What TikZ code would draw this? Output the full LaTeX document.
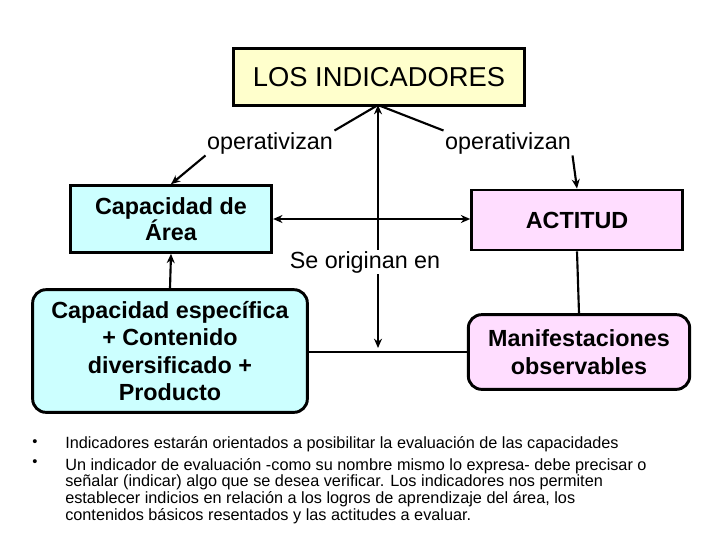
\documentclass[tikz,border=0pt]{standalone}
\usepackage{fontspec}
\setmainfont{Liberation Sans}
\usetikzlibrary{arrows.meta}
\begin{document}
\begin{tikzpicture}[x=0.75pt,y=-0.75pt,
 box/.style={draw,line width=2.2pt,align=center,inner sep=0pt},
 lab/.style={font=\fontsize{17.5}{20}\selectfont,fill=white,inner sep=1pt},
 con/.style={line width=1.6pt},
 arr/.style={con,-{Stealth[length=7pt,width=6pt]}}]
\useasboundingbox (0,0) rectangle (720,540);
\node[box,fill={rgb,255:red,255;green,255;blue,204},minimum width=218pt,minimum height=43pt,font=\fontsize{20.5}{24}\selectfont] (li) at (379,77) {LOS INDICADORES};
\node[box,fill={rgb,255:red,204;green,255;blue,255},minimum width=151pt,minimum height=50pt,font=\bfseries\fontsize{17.5}{19.5}\selectfont] (ca) at (171,219) {Capacidad de\\Área};
\node[box,fill={rgb,255:red,255;green,221;blue,255},minimum width=158pt,minimum height=45pt,font=\bfseries\fontsize{17.5}{20}\selectfont] (act) at (577,220) {ACTITUD};
\node[box,rounded corners=10pt,fill={rgb,255:red,204;green,255;blue,255},minimum width=206pt,minimum height=92pt,font=\bfseries\fontsize{17.5}{20.5}\selectfont] (ce) at (170,351) {Capacidad específica\\+ Contenido\\diversificado +\\Producto};
\node[box,rounded corners=10pt,fill={rgb,255:red,255;green,221;blue,255},minimum width=166pt,minimum height=56pt,font=\bfseries\fontsize{17.5}{20.5}\selectfont] (ma) at (579,352) {Manifestaciones\\observables};
\node[lab] (op1) at (270,143) {operativizan};
\node[lab] (op2) at (508,143) {operativizan};
\node[lab] (se) at (365,262) {Se originan en};
\coordinate (mid) at (378,352);
\coordinate (lb) at (378,105);
\draw[con] (lb) -- (op1.north east);
\draw[arr] (op1.south west) -- (ca.north);
\draw[con] (lb) -- (op2.north west);
\draw[arr] (op2.south east) -- (act.north);
\draw[arr] (se.north -| lb) -- (lb);
\draw[arr] (se.south -| lb) -- ([yshift=3pt]mid);
\draw[con] (ce.east |- mid) -- (ma.west |- mid);
\draw[con,{Stealth[length=7pt,width=6pt]}-{Stealth[length=7pt,width=6pt]}] (ca.east |- 0,219) -- (act.west |- 0,219);
\draw[arr] (ce.north) -- (ca.south);
\draw[con] (act.south) -- (ma.north);
\node[anchor=north west,text width=440pt,font=\fontsize{12.2}{9.6}\selectfont,align=flush left,inner sep=0pt] (bl) at (65,436) {Indicadores estarán orientados a posibilitar la evaluación de las capacidades\\[4pt]
Un indicador de evaluación -como su nombre mismo lo expresa- debe precisar o señalar (indicar) algo que se desea verificar. Los indicadores nos permiten establecer indicios en relación a los logros de aprendizaje del área, los contenidos básicos  resentados y las actitudes a evaluar.};
\node[font=\fontsize{11}{11}\selectfont] (b1) at (35,443) {•};
\node[font=\fontsize{11}{11}\selectfont] (b2) at (35,463) {•};
\end{tikzpicture}
\end{document}
